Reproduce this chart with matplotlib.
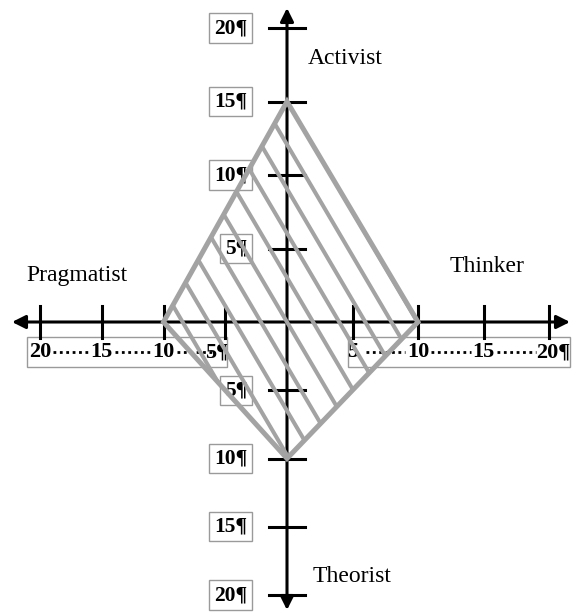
import numpy as np
import matplotlib
matplotlib.use("Agg")
import matplotlib.pyplot as plt
from matplotlib.patches import Polygon, Rectangle

# learning style scores (one per half-axis)
styles = ["Activist", "Thinker", "Theorist", "Pragmatist"]
scores = [15, 10, 10, 10]          # up, right, down, left
tick_values = [5, 10, 15, 20]
x_left_labels = ["20", "15", "10", "5\u00b6"]
x_right_labels = ["5", "10", "15", "20\u00b6"]
y_labels = ["5\u00b6", "10\u00b6", "15\u00b6", "20\u00b6"]

# the original drawing has slightly different unit lengths on each half-axis
XL, XR = 12.35, 13.1     # px per unit, left / right
YU, YD = 14.7, 13.65     # px per unit, up / down
CX, CY = 287, 322
W, H = 574, 615
FONT = "Liberation Serif"
GREY = "#a3a3a3"
BOX = "#9a9a9a"


def fwd_x(v):
    v = np.asarray(v, dtype=float)
    return np.where(v < 0, v * XL, v * XR)


def inv_x(p):
    p = np.asarray(p, dtype=float)
    return np.where(p < 0, p / XL, p / XR)


def fwd_y(v):
    v = np.asarray(v, dtype=float)
    return np.where(v < 0, v * YD, v * YU)


def inv_y(p):
    p = np.asarray(p, dtype=float)
    return np.where(p < 0, p / YD, p / YU)


def px(x, y):
    # image pixel position -> data coords
    return float(inv_x(x - CX)), float(inv_y(CY - y))


def main():
    fig = plt.figure(figsize=(W / 100, H / 100), dpi=100)
    ax = fig.add_axes([0, 0, 1, 1])
    ax.set_xscale("function", functions=(fwd_x, inv_x))
    ax.set_yscale("function", functions=(fwd_y, inv_y))
    ax.set_xlim(px(0, 0)[0], px(W, 0)[0])
    ax.set_ylim(px(0, H)[1], px(0, 0)[1])
    ax.axis("off")

    # axes with arrows
    arrow = dict(arrowstyle="<|-|>", lw=2.2, color="black",
                 mutation_scale=20, shrinkA=0, shrinkB=0)
    ax.annotate("", xy=(px(570, 0)[0], 0), xytext=(px(12, 0)[0], 0),
                arrowprops=arrow, zorder=2)
    ax.annotate("", xy=(0, px(0, 8)[1]), xytext=(0, px(0, 610)[1]),
                arrowprops=arrow, zorder=2)

    # tick marks
    ty0, ty1 = px(0, CY + 16)[1], px(0, CY - 16)[1]
    tx0, tx1 = px(CX - 18, 0)[0], px(CX + 18, 0)[0]
    for v in tick_values:
        for s in (-1, 1):
            ax.plot([s * v, s * v], [ty0, ty1], color="black", lw=2.2, zorder=2)
            ax.plot([tx0, tx1], [s * v, s * v], color="black", lw=2.2, zorder=2)

    # horizontal tick labels in two boxes
    ly = px(0, 352)[1]
    by0, by1 = px(0, 367)[1], px(0, 337)[1]
    left_x = [-v for v in tick_values][::-1]
    right_x = list(tick_values)
    for xs, labels, end_off, (b0, b1) in (
            (left_x, x_left_labels, -9, (-13, 2)),
            (right_x, x_right_labels, 4, (-5, 21))):
        pos = [float(fwd_x(v)) for v in xs]
        for p, lab in zip(pos, labels):
            off = end_off if lab.endswith("\u00b6") else 0
            ax.text(float(inv_x(p + off)), ly, lab, ha="center", va="center",
                    fontsize=16, fontweight="bold", family=FONT, zorder=1)
        for a, b in zip(pos[:-1], pos[1:]):
            ax.plot([float(inv_x(a + 13)), float(inv_x(b - 13))], [ly, ly],
                    color="black", lw=2.0, linestyle=(0, (1, 1.3)), zorder=1)
        x0, x1 = float(inv_x(pos[0] + b0)), float(inv_x(pos[-1] + b1))
        ax.add_patch(Rectangle((x0, by0), x1 - x0, by1 - by0, facecolor="white",
                               edgecolor=BOX, lw=1, zorder=0.5))

    # vertical tick labels in boxes
    lx = px(247, 0)[0]
    for sign in (1, -1):
        for v, lab in zip(tick_values, y_labels):
            ax.text(lx, sign * v, lab, ha="right", va="center", fontsize=15.5,
                    fontweight="bold", family=FONT, zorder=1,
                    bbox=dict(boxstyle="square,pad=0.22", facecolor="white",
                              edgecolor=BOX, lw=1))

    # diamond of scores
    up, right, down, left = scores
    verts = [(0, up), (right, 0), (0, -down), (-left, 0)]
    diamond = Polygon(verts, closed=True, fill=False, edgecolor=GREY, lw=3.6,
                      joinstyle="miter", zorder=4)
    ax.add_patch(diamond)

    # hatch lines, built in pixel space and clipped to the diamond
    d = np.array([1.0, -1.7]) / np.hypot(1.0, 1.7)
    n = np.array([1.7, 1.0]) / np.hypot(1.0, 1.7)
    spacing = 22.5
    clip = Polygon(verts, closed=True, transform=ax.transData)
    t = np.linspace(-700, 700, 701)
    for k in range(-12, 13):
        c = k * spacing
        hx = c * n[0] + t * d[0]
        hy = c * n[1] + t * d[1]
        line, = ax.plot(inv_x(hx), inv_y(hy), color=GREY, lw=2.9, zorder=3)
        line.set_clip_path(clip)

    # style names
    name_pos = [(345, 58), (487, 267), (352, 576), (77, 275)]
    for name, (x, y) in zip(styles, name_pos):
        ax.text(*px(x, y), name, ha="center", va="center", fontsize=17, family=FONT)

    fig.savefig("out.png", dpi=100)


if __name__ == "__main__":
    main()
